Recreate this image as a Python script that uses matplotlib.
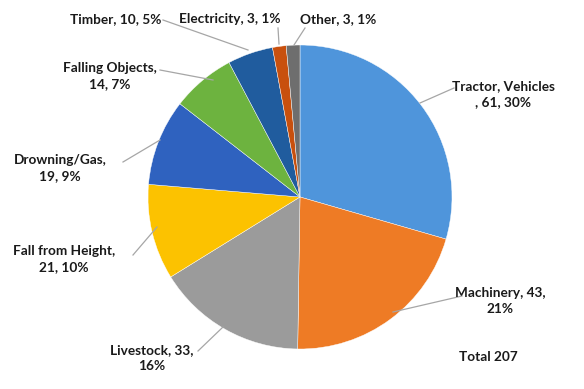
import numpy as np
import matplotlib
matplotlib.use('Agg')
import matplotlib.pyplot as plt

# ── Data ──────────────────────────────────────────────────────────────
categories = ['Tractor, Vehicles', 'Machinery', 'Livestock', 'Fall from Height',
              'Drowning/Gas', 'Falling Objects', 'Timber', 'Electricity', 'Other']
counts = [61, 43, 33, 21, 19, 14, 10, 3, 3]
percents = [30, 21, 16, 10, 9, 7, 5, 1, 1]     # as printed on the chart
# where each data label wraps (Excel-style text layout)
seps = [('\n, ', ', '), (', ', ',\n'), (', ', ',\n'), (',\n', ', '),
        (',\n', ', '), (',\n', ', '), (', ', ', '), (', ', ', '), (', ', ', ')]
total = sum(counts)

colors = ['#4f95db', '#ee7b25', '#9b9b9b', '#fcc200', '#2f62bf',
          '#6db33f', '#205c9e', '#c8500e', '#6e6e6e']

# label text centre / leader end-points, in pixels from top-left
label_xy = [(503, 94), (500, 301), (152, 358), (64, 259), (60, 168),
            (110, 76), (116, 19), (230, 19), (338, 19)]
leader_end = [(454, 88), (462, 296), (198, 351), (133, 255), (123, 162),
              (160, 70), (163, 20), (278, 28), (305, 28)]
leader_start = [(420, 103), (393, 312), (223, 327), (157, 227), (160, 140),
                (213, 80), (248, 50), (279, 44), (294, 45)]

W, H = 584, 389
fig = plt.figure(figsize=(W / 100, H / 100), dpi=100)
ax = fig.add_axes([0, 0, 1, 1])

CX, CY, R = 300, H - 197, 152
ax.pie(counts, colors=colors, startangle=90, counterclock=False,
       center=(CX, CY), radius=R, frame=True,
       wedgeprops=dict(edgecolor='white', linewidth=0.3))
ax.set_xlim(0, W)
ax.set_ylim(0, H)
ax.set_aspect('equal')
ax.axis('off')

font = dict(family=['Lato', 'DejaVu Sans'], fontweight='bold', fontsize=9.8,
            color='#1a1a1a')
for cat, v, p, (s1, s2), (tx, ty), (ex, ey), (sx, sy) in zip(
        categories, counts, percents, seps, label_xy, leader_end, leader_start):
    txt = f'{cat}{s1}{v}{s2}{p}%'
    ax.text(tx, H - ty, txt, ha='center', va='center', linespacing=1.45, **font)
    ax.plot([sx, ex], [H - sy, H - ey], color='#a6a6a6', lw=0.9)

ax.text(488, H - 357, f'Total {total}', ha='center', va='center', **font)

fig.savefig('out.png', dpi=100)
